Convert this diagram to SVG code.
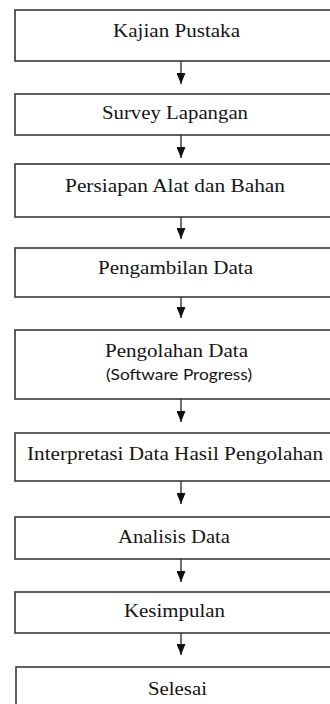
<svg xmlns="http://www.w3.org/2000/svg" width="330" height="704" viewBox="0 0 330 704">
<defs>
<style>
.box{fill:#ffffff;stroke:#383838;stroke-width:1.6}
.t{font-family:"Liberation Serif","DejaVu Serif",serif;font-size:19px;fill:#151515}
.s{font-family:Lato,"Open Sans","Liberation Sans",sans-serif;font-size:15px;fill:#151515}
.c{stroke:#111111;stroke-width:1.2;fill:none}
</style>
<marker id="ah" viewBox="0 0 11 9" refX="11" refY="4.5" markerWidth="11" markerHeight="9" markerUnits="userSpaceOnUse" orient="auto">
<path d="M0,0 L11,4.5 L0,9 z" fill="#111111"/>
</marker>
</defs>
<rect width="330" height="704" fill="#ffffff"/>
<g id="connectors">
<line class="c" x1="181" y1="61" x2="181" y2="84" marker-end="url(#ah)"/>
<line class="c" x1="181" y1="135" x2="181" y2="158" marker-end="url(#ah)"/>
<line class="c" x1="181" y1="217" x2="181" y2="239" marker-end="url(#ah)"/>
<line class="c" x1="181" y1="297" x2="181" y2="318" marker-end="url(#ah)"/>
<line class="c" x1="181" y1="399" x2="181" y2="422" marker-end="url(#ah)"/>
<line class="c" x1="181" y1="481" x2="181" y2="504" marker-end="url(#ah)"/>
<line class="c" x1="181" y1="559" x2="181" y2="582" marker-end="url(#ah)"/>
<line class="c" x1="181" y1="633" x2="181" y2="655" marker-end="url(#ah)"/>
</g>
<g id="n1"><rect class="box" x="15" y="10" width="320" height="51"/><text class="t" x="113" y="37" textLength="127" lengthAdjust="spacingAndGlyphs">Kajian Pustaka</text></g>
<g id="n2"><rect class="box" x="15" y="94" width="320" height="41"/><text class="t" x="102" y="119" textLength="146" lengthAdjust="spacingAndGlyphs">Survey Lapangan</text></g>
<g id="n3"><rect class="box" x="15" y="164" width="320" height="53"/><text class="t" x="65" y="192" textLength="220" lengthAdjust="spacingAndGlyphs">Persiapan Alat dan Bahan</text></g>
<g id="n4"><rect class="box" x="15" y="248" width="320" height="49"/><text class="t" x="98" y="274" textLength="155" lengthAdjust="spacingAndGlyphs">Pengambilan Data</text></g>
<g id="n5"><rect class="box" x="15" y="330" width="320" height="69"/><text class="t" x="105" y="357" textLength="143" lengthAdjust="spacingAndGlyphs">Pengolahan Data</text><text class="s" x="106" y="380" textLength="146" lengthAdjust="spacingAndGlyphs">(Software Progress)</text></g>
<g id="n6"><rect class="box" x="15" y="433" width="320" height="48"/><text class="t" x="27" y="460" textLength="296" lengthAdjust="spacingAndGlyphs">Interpretasi Data Hasil Pengolahan</text></g>
<g id="n7"><rect class="box" x="15" y="517" width="320" height="42"/><text class="t" x="118" y="543" textLength="112" lengthAdjust="spacingAndGlyphs">Analisis Data</text></g>
<g id="n8"><rect class="box" x="15" y="592" width="320" height="41"/><text class="t" x="124" y="617" textLength="101" lengthAdjust="spacingAndGlyphs">Kesimpulan</text></g>
<g id="n9"><rect class="box" x="16" y="667" width="320" height="50"/><text class="t" x="148" y="695" textLength="59" lengthAdjust="spacingAndGlyphs">Selesai</text></g>
</svg>
